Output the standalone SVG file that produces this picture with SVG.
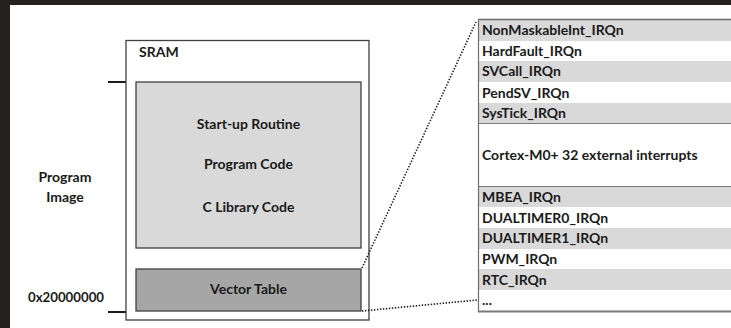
<svg xmlns="http://www.w3.org/2000/svg" width="731" height="328" viewBox="0 0 731 328">
  <style>
    text { font-family: Lato, "Open Sans", "Liberation Sans", sans-serif; font-weight: bold; font-size: 14px; fill: #1a1a1a; }
    .mid { text-anchor: middle; }
    .box { stroke: #404040; stroke-width: 1.3; }
    .dots { fill: none; stroke: #1a1a1a; stroke-width: 1.6; stroke-dasharray: 1.4 1.6; }
    .tick { stroke: #1a1a1a; stroke-width: 2; }
    .grey { fill: #d9d9d9; }
  </style>

  <!-- page background and dark frame -->
  <rect x="0" y="0" width="731" height="328" fill="#ffffff"/>
  <rect x="0" y="0" width="731" height="5" fill="#25211e"/>
  <rect x="0" y="0" width="10" height="328" fill="#25211e"/>

  <!-- left-side labels and address ticks -->
  <g id="labels">
    <text class="mid" x="65" y="182">Program</text>
    <text class="mid" x="65" y="202">Image</text>
    <text x="28" y="302" textLength="76" lengthAdjust="spacingAndGlyphs">0x20000000</text>
    <line class="tick" x1="108" y1="82" x2="126" y2="82"/>
    <line class="tick" x1="108" y1="312" x2="126" y2="312"/>
  </g>

  <!-- SRAM memory map -->
  <g id="sram">
    <rect class="box" x="126" y="40.5" width="243" height="279.5" fill="#ffffff"/>
    <text x="139" y="57">SRAM</text>
  </g>
  <g id="code-region">
    <rect class="box" x="136" y="82" width="225" height="166" fill="#d9d9d9"/>
    <text class="mid" x="248.5" y="129">Start-up Routine</text>
    <text class="mid" x="248.5" y="169">Program Code</text>
    <text class="mid" x="248.5" y="212">C Library Code</text>
  </g>
  <g id="vector-table">
    <rect class="box" x="136" y="269" width="225" height="42" fill="#a6a6a6"/>
    <text class="mid" x="248.5" y="294">Vector Table</text>
  </g>

  <!-- expanded vector table -->
  <g id="vector-entries">
    <rect class="grey" x="478" y="20" width="253" height="21"/>
    <rect class="grey" x="478" y="61" width="253" height="21"/>
    <rect class="grey" x="478" y="103" width="253" height="20"/>
    <rect class="grey" x="478" y="187" width="253" height="20"/>
    <rect class="grey" x="478" y="228" width="253" height="21"/>
    <rect class="grey" x="478" y="269" width="253" height="21"/>
    <line x1="478" y1="123.5" x2="731" y2="123.5" stroke="#7a7a7a" stroke-width="1"/>
    <line x1="478" y1="186.5" x2="731" y2="186.5" stroke="#7a7a7a" stroke-width="1"/>
    <line x1="478" y1="19.5" x2="731" y2="19.5" stroke="#6e6e6e" stroke-width="1.6"/>
    <line x1="478" y1="311.5" x2="731" y2="311.5" stroke="#7a7a7a" stroke-width="2"/>
    <line x1="478.5" y1="19" x2="478.5" y2="312" stroke="#6e6e6e" stroke-width="1.2"/>
    <text x="482" y="35">NonMaskableInt_IRQn</text>
    <text x="482" y="56">HardFault_IRQn</text>
    <text x="482" y="76">SVCall_IRQn</text>
    <text x="482" y="98">PendSV_IRQn</text>
    <text x="482" y="118">SysTick_IRQn</text>
    <text x="482" y="160">Cortex-M0+ 32 external interrupts</text>
    <text x="482" y="202">MBEA_IRQn</text>
    <text x="482" y="223">DUALTIMER0_IRQn</text>
    <text x="482" y="243">DUALTIMER1_IRQn</text>
    <text x="482" y="264">PWM_IRQn</text>
    <text x="482" y="285">RTC_IRQn</text>
    <text x="482" y="305">...</text>
  </g>

  <!-- zoom connectors -->
  <g id="connectors">
    <line class="dots" x1="362" y1="268" x2="476" y2="22"/>
    <line class="dots" x1="362" y1="311" x2="477" y2="300"/>
  </g>
</svg>
